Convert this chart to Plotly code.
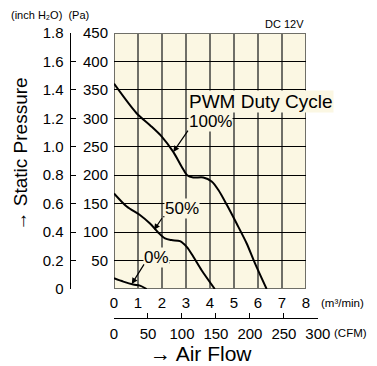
import plotly.graph_objects as go

# ---- data ----
flow_100 = [0, 0.94, 1.5, 1.99, 2.47, 2.82, 3.05, 3.3, 3.72, 4.07, 4.35, 4.7, 5.11, 5.53, 5.875, 6.36]
pa_100 = [361, 309, 288, 268, 241, 215, 200, 196, 196, 189, 174, 148, 115, 80, 45, 0]

flow_50 = [0, 0.53, 1.08, 1.5, 1.85, 2.125, 2.4, 2.75, 3.03, 3.3, 3.65, 4.2]
pa_50 = [168, 145, 130, 115, 99, 89, 86, 84, 74, 57, 33, 0]

flow_0 = [0, 0.39, 0.8, 1.08, 1.36]
pa_0 = [19, 13, 8, 6, 0]

m3_ticks = [0, 1, 2, 3, 4, 5, 6, 7, 8]
cfm_ticks = [0, 50, 100, 150, 200, 250, 300]
pa_ticks = [50, 100, 150, 200, 250, 300, 350, 400, 450]
inch_ticks = [0, 0.2, 0.4, 0.6, 0.8, 1.0, 1.2, 1.4, 1.6, 1.8]
inch_labels = ["0", "0.2", "0.4", "0.6", "0.8", "1.0", "1.2", "1.4", "1.6", "1.8"]

duty_labels = ["100%", "50%", "0%"]

# ---- geometry: the page body has an 8px margin, so the figure starts at (8, 8) ----
OFF = 8
W, H = 377 - OFF, 366 - OFF
def px(x):
    return (x - OFF) / W
def py(y):
    return 1 - (y - OFF) / H

CREAM = "#FBF7E3"
GRID_V = "#6F6F68"
NUM_FONT = dict(family="Liberation Sans Narrow, Liberation Sans, Arial, sans-serif",
                size=15, color="black")
TXT = "Liberation Sans, Arial, Noto Sans CJK JP, sans-serif"
SMALL = dict(family="Liberation Sans, Noto Sans CJK JP, sans-serif", size=11.5, color="black")

fig = go.Figure()
for fx, fp in [(flow_100, pa_100), (flow_50, pa_50), (flow_0, pa_0)]:
    fig.add_trace(go.Scatter(x=fx, y=fp, mode="lines",
                             line=dict(color="black", width=2, shape="spline", smoothing=0.8),
                             hoverinfo="skip", showlegend=False))
# invisible traces so the secondary scales are drawn
fig.add_trace(go.Scatter(x=[0], y=[0], xaxis="x", yaxis="y3", mode="markers",
                         marker=dict(opacity=0), hoverinfo="skip", showlegend=False))
fig.add_trace(go.Scatter(x=[0], y=[0], xaxis="x2", yaxis="y4", mode="markers",
                         marker=dict(opacity=0), hoverinfo="skip", showlegend=False))

cfm_end = 114 + 300 * 0.0283168 * 24

fig.update_layout(
    width=W, height=H, template="none",
    margin=dict(l=0, r=0, t=0, b=0),
    paper_bgcolor="white", plot_bgcolor="rgba(0,0,0,0)",
    showlegend=False,
    xaxis=dict(domain=[px(114), px(306)], range=[0, 8], tickvals=m3_ticks, ticks="",
               showgrid=True, gridcolor=GRID_V, gridwidth=2, zeroline=False, showline=False,
               tickfont=NUM_FONT, anchor="y", automargin=False, ticklabelstandoff=3),
    yaxis=dict(domain=[py(289), py(33)], range=[0, 450], tickvals=pa_ticks, ticks="",
               showgrid=True, gridcolor="black", gridwidth=1, zeroline=False, showline=False,
               tickfont=NUM_FONT, anchor="x", automargin=False, ticklabelstandoff=5),
    xaxis2=dict(domain=[px(114), px(cfm_end)], range=[0, 300],
                anchor="y4", side="bottom", tickvals=cfm_ticks, ticks="inside", ticklen=5,
                tickcolor="black", tickwidth=1, showline=True, linecolor="black", linewidth=1,
                showgrid=False, zeroline=False, tickfont=NUM_FONT, automargin=False,
                ticklabelstandoff=2),
    yaxis4=dict(domain=[py(318), py(317)], range=[0, 1], visible=False, anchor="x2"),
    yaxis3=dict(overlaying="y", anchor="free", position=px(69.5), side="left",
                range=[0, 1.8], tickvals=inch_ticks, ticktext=inch_labels,
                ticks="inside", ticklen=5, tickcolor="black", tickwidth=1,
                showline=True, linecolor="black", linewidth=1, showgrid=False,
                zeroline=False, tickfont=NUM_FONT, automargin=False, ticklabelstandoff=3),
)

# plot background with frame
fig.add_shape(type="rect", xref="x", yref="y", x0=0, x1=8, y0=0, y1=450,
              fillcolor=CREAM, line=dict(color=GRID_V, width=2), layer="below")

ann = []
ann.append(dict(text="(inch H₂O)  (Pa)", x=px(10), y=1, xref="paper", yref="paper",
                xanchor="left", yanchor="top", showarrow=False, borderpad=0,
                font=dict(family=SMALL["family"], size=11, color="black")))
ann.append(dict(text="DC 12V", x=px(306), y=py(24), xref="paper", yref="paper",
                xanchor="right", yanchor="middle", showarrow=False,
                font=dict(family=SMALL["family"], size=11, color="black")))
ann.append(dict(text="(m³/min)", x=px(319), y=py(303), xref="paper", yref="paper",
                xanchor="left", yanchor="middle", showarrow=False, font=SMALL))
ann.append(dict(text="(CFM)", x=px(332), y=py(333), xref="paper", yref="paper",
                xanchor="left", yanchor="middle", showarrow=False, font=SMALL))
ann.append(dict(text="→ Air Flow", x=px(201), y=py(353), xref="paper", yref="paper",
                xanchor="center", yanchor="middle", showarrow=False, borderpad=0,
                font=dict(family=TXT, size=21, color="black")))
ann.append(dict(text="→ Static Pressure", x=0, y=py(154), xref="paper", yref="paper",
                xanchor="left", yanchor="middle", showarrow=False, textangle=-90,
                borderpad=0, font=dict(family=TXT, size=19, color="black")))
ann.append(dict(text="PWM Duty Cycle", x=6.125, y=330, xref="x", yref="y",
                xanchor="center", yanchor="middle", showarrow=False, bgcolor=CREAM,
                borderpad=0, font=dict(family=TXT, size=19, color="black")))

label_pos = [(4.0, 295), (2.83, 141), (1.79, 56)]
underline = [((3.125, 4.5), 281), ((2.04, 3.29), 127), ((1.29, 2.33), 46)]
tips = [(2.47, 241), (1.67, 104), (0.74, 9)]
for lab, (lx, ly), ((u0, u1), uy), (tx, ty) in zip(duty_labels, label_pos, underline, tips):
    ann.append(dict(text=lab, x=lx, y=ly, xref="x", yref="y", xanchor="center",
                    yanchor="middle", showarrow=False, bgcolor=CREAM, borderpad=0,
                    font=dict(family=TXT, size=17, color="black")))
    fig.add_shape(type="line", xref="x", yref="y", x0=u0, x1=u1, y0=uy, y1=uy,
                  line=dict(color="black", width=1))
    ann.append(dict(text="", x=tx, y=ty, xref="x", yref="y", ax=u0, ay=uy,
                    axref="x", ayref="y", showarrow=True, arrowhead=2, arrowsize=1,
                    arrowwidth=1.2, arrowcolor="black"))

fig.update_layout(annotations=ann)
fig.write_html("out.html")
